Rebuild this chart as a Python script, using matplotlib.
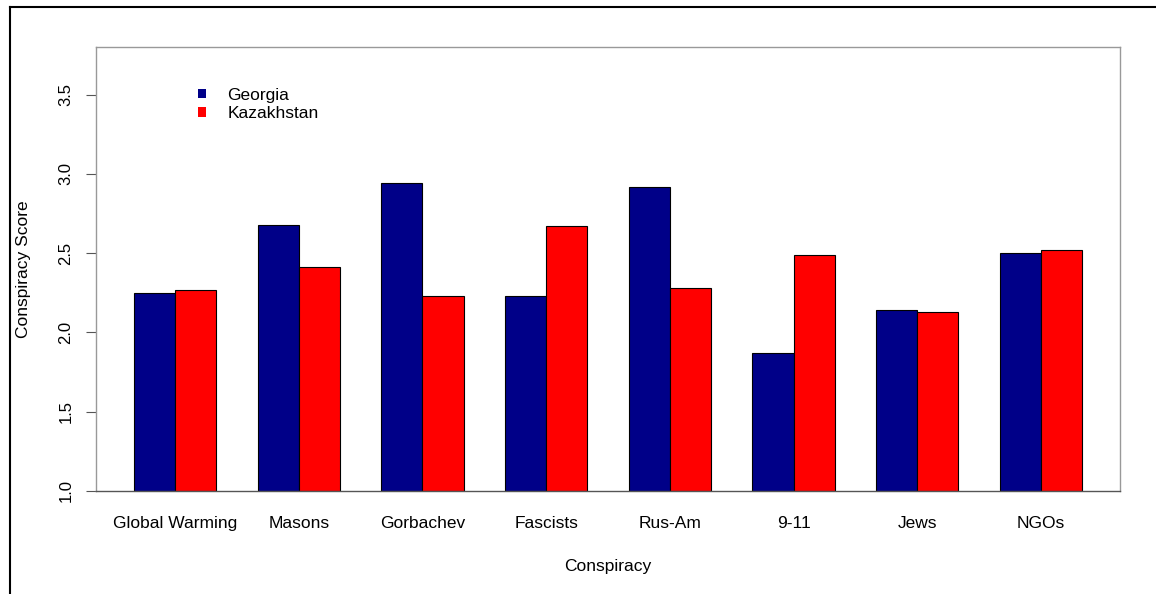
import matplotlib
matplotlib.use("Agg")
import matplotlib.pyplot as plt
from matplotlib.lines import Line2D
import numpy as np

plt.rcParams['font.family'] = ['Liberation Sans', 'DejaVu Sans']

categories = ["Global Warming", "Masons", "Gorbachev", "Fascists", "Rus-Am", "9-11", "Jews", "NGOs"]
georgia = [2.25, 2.68, 2.94, 2.23, 2.92, 1.87, 2.14, 2.50]
kazakhstan = [2.27, 2.41, 2.23, 2.67, 2.28, 2.49, 2.13, 2.52]
series_names = ["Georgia", "Kazakhstan"]
y_ticks = [1.0, 1.5, 2.0, 2.5, 3.0, 3.5]

W, H = 1156, 594
FS = 12.5
fig = plt.figure(figsize=(W / 100, H / 100), dpi=100)
ax = fig.add_axes([96 / W, (H - 491) / H, (1120 - 96) / W, (491 - 47) / H])

# R-style barplot positions: bar width 1, group gap 1
n = len(categories)
g_left = 1 + 3 * np.arange(n)
ax.bar(g_left, np.array(georgia) - 1.0, bottom=1.0, width=1.0, align='edge',
       color='#000088', edgecolor='black', linewidth=0.8, label=series_names[0])
ax.bar(g_left + 1, np.array(kazakhstan) - 1.0, bottom=1.0, width=1.0, align='edge',
       color='#ff0000', edgecolor='black', linewidth=0.8, label=series_names[1])

ax.set_xlim(0.08, 24.92)
ax.set_ylim(1.0, 3.8)

ax.set_xticks(g_left + 1)
ax.set_xticklabels(categories, fontsize=FS)
ax.tick_params(axis='x', length=0, pad=18)

ax.set_yticks(y_ticks)
ax.set_yticklabels([f"{v:.1f}" for v in y_ticks], fontsize=12, rotation=90, va='center')
ax.tick_params(axis='y', length=7.2, width=0.8, color='#555555', pad=9)

for s in ax.spines.values():
    s.set_color('#999999')
    s.set_linewidth(1.0)
ax.spines['bottom'].set_color('#555555')

ax.set_xlabel("Conspiracy", fontsize=FS, labelpad=20)
fig.text(24 / W, 1 - 269 / H, "Conspiracy Score", rotation=90, fontsize=FS,
         ha='center', va='center')

# legend
leg = ax.legend(loc='upper left', bbox_to_anchor=(189 / W, 1 - 79 / H),
                bbox_transform=fig.transFigure, frameon=False, borderpad=0,
                fontsize=FS, handlelength=0.46, handleheight=0.46, handletextpad=1.25,
                labelspacing=0.2)
for h in leg.legend_handles:
    h.set_edgecolor('none')

# outer frame lines
fig.add_artist(Line2D([10 / W, 10 / W], [0, 1 - 7 / H], color='black', lw=1.5,
                      transform=fig.transFigure))
fig.add_artist(Line2D([10 / W, 1.0], [1 - 7 / H, 1 - 7 / H], color='black', lw=1.5,
                      transform=fig.transFigure))

fig.savefig("out.png", dpi=100)
